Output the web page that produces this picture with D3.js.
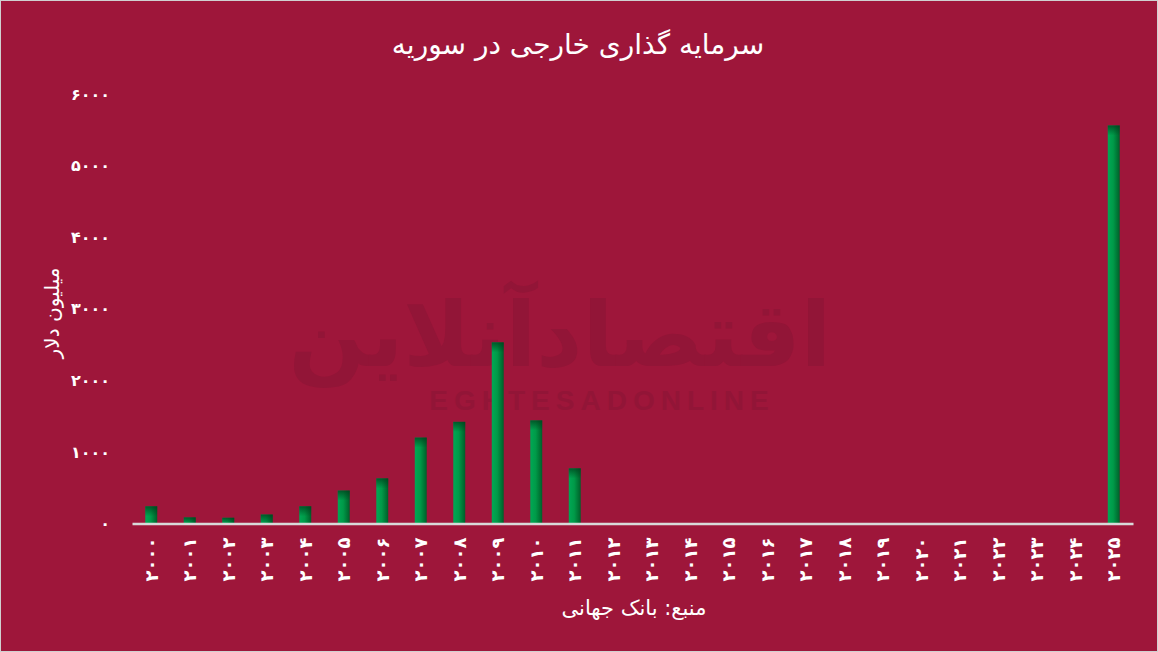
<!DOCTYPE html>
<html><head><meta charset="utf-8">
<script src="https://cdn.jsdelivr.net/npm/d3@7/dist/d3.min.js"></script>
<style>html,body{margin:0;padding:0;background:#9e163a;}svg{display:block;}</style>
</head><body>
<svg id="chart" width="1158" height="652"></svg>
<script>
const years = ["2000","2001","2002","2003","2004","2005","2006","2007","2008","2009","2010","2011","2012","2013","2014","2015","2016","2017","2018","2019","2020","2021","2022","2023","2024","2025"];
const values = [240, 85, 80, 125, 240, 460, 630, 1200, 1420, 2530, 1440, 770, 0, 0, 0, 0, 0, 0, 0, 0, 0, 0, 0, 0, 0, 5560];
const yTicks = [0, 1000, 2000, 3000, 4000, 5000, 6000];
const title = "سرمایه گذاری خارجی در سوریه";
const yTitle = "میلیون دلار";
const source = "منبع: بانک جهانی";

const fa = s => String(s).replace(/[0-9]/g, d => "۰۱۲۳۴۵۶۷۸۹"[d]);
const W = 1158, H = 652;
const svg = d3.select("#chart");
const bg = "#9e163a";
svg.append("rect").attr("x",0.5).attr("y",0.5).attr("width",W-1).attr("height",H-1)
  .attr("fill",bg).attr("stroke","#d0d0d0").attr("stroke-width",1);

const defs = svg.append("defs");
const g1 = defs.append("linearGradient").attr("id","barH").attr("x1","0").attr("x2","1").attr("y1","0").attr("y2","0");
g1.append("stop").attr("offset","0%").attr("stop-color","#00a855");
g1.append("stop").attr("offset","45%").attr("stop-color","#009a48");
g1.append("stop").attr("offset","100%").attr("stop-color","#005f2a");
const g2 = defs.append("linearGradient").attr("id","barTop").attr("x1","0").attr("x2","0").attr("y1","0").attr("y2","1");
g2.append("stop").attr("offset","0%").attr("stop-color","#00401c").attr("stop-opacity",0.75);
g2.append("stop").attr("offset","100%").attr("stop-color","#00401c").attr("stop-opacity",0);

// watermark
const wm = svg.append("g").attr("fill","#921537");
wm.append("text").attr("x",560).attr("y",366).attr("text-anchor","middle")
  .attr("font-family","DejaVu Sans").attr("font-weight","bold").attr("font-size",90)
  .text("اقتصادآنلاین");
wm.append("text").attr("x",602).attr("y",410).attr("text-anchor","middle")
  .attr("font-family","Liberation Sans").attr("font-weight","bold").attr("font-size",28)
  .attr("letter-spacing",6).text("EGHTESADONLINE");

const x = d3.scaleBand().domain(years).range([132, 1133]).paddingInner(0.69).paddingOuter(0.345);
const y = d3.scaleLinear().domain([0, 6000]).range([523.5, 94]);

// bars
const bars = svg.append("g");
years.forEach((yr, i) => {
  const v = values[i];
  if (v <= 0) return;
  const bx = x(yr), bw = x.bandwidth(), by = y(v), bh = y(0) - y(v);
  bars.append("rect").attr("x",bx).attr("y",by).attr("width",bw).attr("height",bh).attr("fill","url(#barH)");
  bars.append("rect").attr("x",bx).attr("y",by).attr("width",bw).attr("height",Math.min(10,bh)).attr("fill","url(#barTop)");
});

// x axis
const xAxis = svg.append("g").attr("transform",`translate(0,${y(0)})`)
  .call(d3.axisBottom(x).tickSize(0).tickFormat(fa));
xAxis.select(".domain").attr("stroke","#d9d9d9").attr("stroke-width",2.5);
xAxis.selectAll("text").attr("fill","#fff").attr("font-family","DejaVu Sans").attr("font-size",18)
  .attr("font-weight","bold").attr("text-anchor","end").attr("dy","0.35em").attr("dx","0")
  .attr("transform","translate(0,14) rotate(-90)").attr("x",0).attr("y",0);

// y axis
const yAxis = svg.append("g").attr("transform","translate(110,0)")
  .call(d3.axisLeft(y).tickValues(yTicks).tickSize(0).tickFormat(fa));
yAxis.select(".domain").remove();
yAxis.selectAll("text").attr("fill","#fff").attr("font-family","DejaVu Sans").attr("font-size",16)
  .attr("font-weight","bold").attr("x",0).attr("text-anchor","end");

// titles
svg.append("text").attr("x",578).attr("y",54).attr("text-anchor","middle").attr("fill","#fff")
  .attr("font-family","DejaVu Sans").attr("font-size",28).text(title);
svg.append("text").attr("transform","translate(59,313) rotate(-90)").attr("text-anchor","middle")
  .attr("fill","#fff").attr("font-family","DejaVu Sans").attr("font-size",20).text(yTitle);
svg.append("text").attr("x",634).attr("y",615).attr("text-anchor","middle").attr("fill","#fff")
  .attr("font-family","DejaVu Sans").attr("font-size",21).text(source);
</script>
</body></html>
